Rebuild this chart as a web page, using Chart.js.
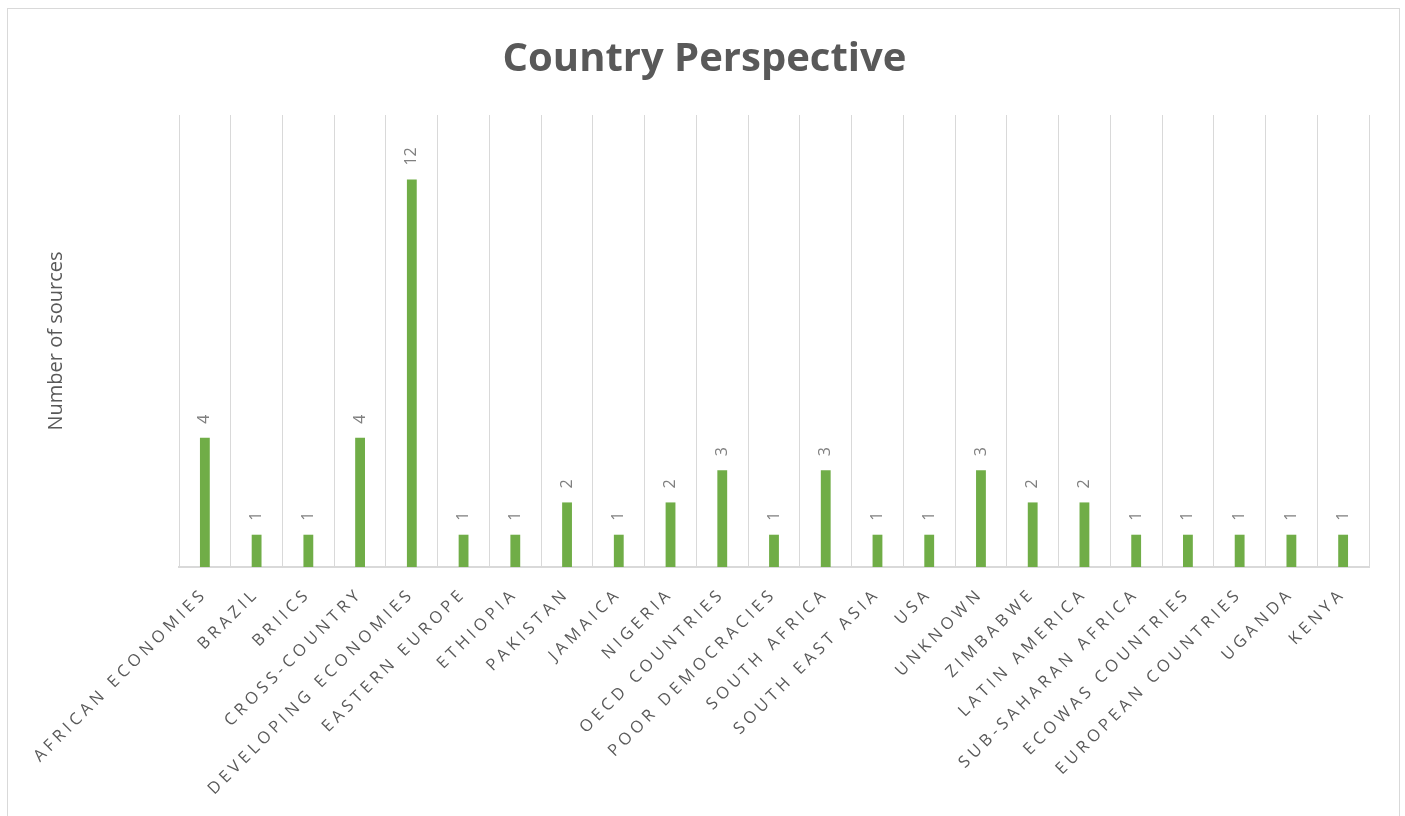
<!DOCTYPE html>
<html lang="en">
  <head>
    <meta charset="UTF-8" />
    <title>Country Perspective</title>
    <script src="https://cdn.jsdelivr.net/npm/chart.js"></script>
    <style>
      body { margin: 0; background: #fff; }
      #wrap { position: relative; width: 1405px; height: 816px; overflow: hidden; }
      #frame { position: absolute; left: 7px; top: 8px; width: 1393px; height: 830px; border: 1.5px solid #d9d9d9; box-sizing: border-box; }
      canvas { position: absolute; left: 0; top: 0; }
    </style>
  </head>
  <body>
    <div id="wrap">
      <div id="frame"></div>
      <canvas id="chart" width="1405" height="816"></canvas>
    </div>
    <script>
      const countries = [
        "AFRICAN ECONOMIES", "BRAZIL", "BRIICS", "CROSS-COUNTRY", "DEVELOPING ECONOMIES",
        "EASTERN EUROPE", "ETHIOPIA", "PAKISTAN", "JAMAICA", "NIGERIA", "OECD COUNTRIES",
        "POOR DEMOCRACIES", "SOUTH AFRICA", "SOUTH EAST ASIA", "USA", "UNKNOWN", "ZIMBABWE",
        "LATIN AMERICA", "SUB-SAHARAN AFRICA", "ECOWAS COUNTRIES", "EUROPEAN COUNTRIES",
        "UGANDA", "KENYA"
      ];
      const sources = [4, 1, 1, 4, 12, 1, 1, 2, 1, 2, 3, 1, 3, 1, 1, 3, 2, 2, 1, 1, 1, 1, 1];

      // value labels above the bars; x tick labels (drawn after datasets, z=1) get letter spacing
      const barLabels = {
        id: "barLabels",
        beforeDraw(chart) { chart.ctx.letterSpacing = "0px"; },
        afterDatasetsDraw(chart) {
          const ctx = chart.ctx;
          const meta = chart.getDatasetMeta(0);
          ctx.save();
          ctx.letterSpacing = "0px";
          ctx.font = "16px 'Open Sans'";
          ctx.fillStyle = "#808080";
          ctx.textAlign = "left";
          ctx.textBaseline = "middle";
          meta.data.forEach((bar, i) => {
            ctx.save();
            ctx.translate(bar.x, bar.y - 14);
            ctx.rotate(-Math.PI / 2);
            ctx.fillText(String(sources[i]), 0, 0);
            ctx.restore();
          });
          ctx.restore();
          ctx.letterSpacing = "4.2px";
        },
        afterDraw(chart) { chart.ctx.letterSpacing = "0px"; }
      };

      new Chart(document.getElementById("chart"), {
        type: "bar",
        data: {
          labels: countries,
          datasets: [{
            data: sources,
            backgroundColor: "#70ad47",
            categoryPercentage: 1,
            barPercentage: 0.19
          }]
        },
        options: {
          responsive: false,
          animation: false,
          layout: { padding: { left: 40, right: 36, top: 0, bottom: 0 } },
          plugins: {
            legend: { display: false },
            tooltip: { enabled: false },
            title: {
              display: true,
              text: "Country Perspective",
              color: "#595959",
              font: { family: "'Open Sans'", size: 40, weight: "bold" },
              padding: { top: 36, bottom: 31 }
            }
          },
          scales: {
            x: {
              grid: { color: "#d9d9d9", drawTicks: false, offset: true },
              border: { color: "#d9d9d9", width: 2 },
              ticks: {
                z: 1,
                color: "#595959",
                font: { family: "'Open Sans'", size: 16.5 },
                minRotation: 45,
                maxRotation: 45,
                autoSkip: false,
                padding: 17
              },
              afterFit(scale) { scale.height = 249; }
            },
            y: {
              min: 0,
              max: 14,
              grid: { display: false },
              border: { display: false },
              ticks: { display: false },
              title: {
                display: true,
                text: "Number of sources",
                color: "#595959",
                font: { family: "'Open Sans'", size: 20 },
                padding: 4
              },
              afterFit(scale) { scale.width = 139; }
            }
          }
        },
        plugins: [barLabels]
      });
    </script>
  </body>
</html>
